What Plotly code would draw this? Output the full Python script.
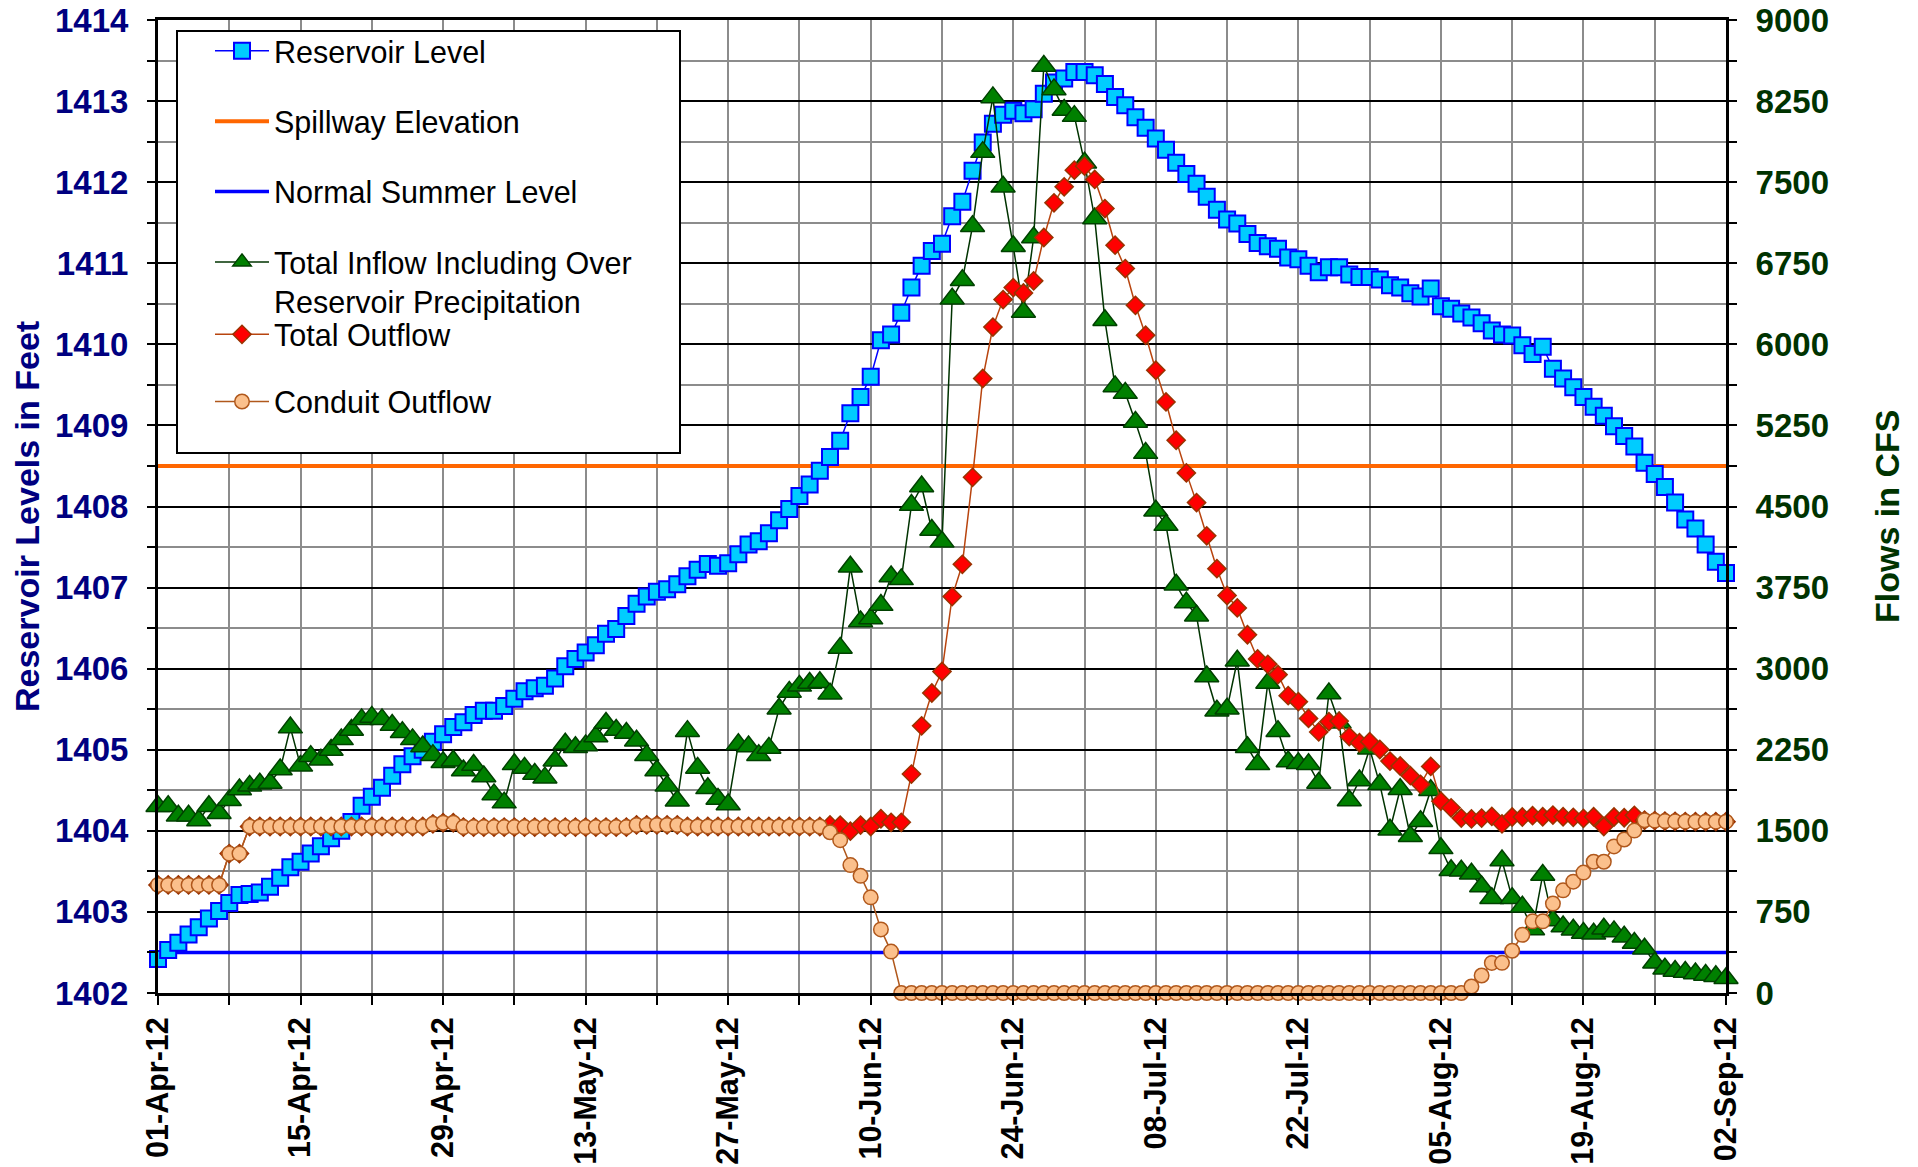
import pandas as pd
import plotly.graph_objects as go

# Daily record, 01-Apr-2012 through 02-Sep-2012
dates = pd.date_range("2012-04-01", "2012-09-02", freq="D")

# Reservoir pool elevation (feet)
reservoir_level = [
    1402.42, 1402.53, 1402.62, 1402.72, 1402.81, 1402.92, 1403.01,
    1403.11, 1403.21, 1403.22, 1403.24, 1403.31, 1403.42, 1403.55,
    1403.62, 1403.72, 1403.81, 1403.91, 1404.00, 1404.11, 1404.31,
    1404.42, 1404.53, 1404.68, 1404.82, 1404.92, 1405.00, 1405.10,
    1405.19, 1405.28, 1405.34, 1405.43, 1405.48, 1405.48, 1405.54,
    1405.63, 1405.72, 1405.76, 1405.79, 1405.88, 1406.03, 1406.12,
    1406.20, 1406.29, 1406.43, 1406.49, 1406.65, 1406.80, 1406.89,
    1406.95, 1406.98, 1407.04, 1407.14, 1407.22, 1407.29, 1407.27,
    1407.30, 1407.41, 1407.53, 1407.57, 1407.67, 1407.83, 1407.97,
    1408.13, 1408.27, 1408.44, 1408.61, 1408.81, 1409.15, 1409.35,
    1409.60, 1410.05, 1410.12, 1410.39, 1410.70, 1410.97, 1411.15,
    1411.24, 1411.58, 1411.76, 1412.14, 1412.49, 1412.72, 1412.83,
    1412.88, 1412.85, 1412.90, 1413.09, 1413.23, 1413.28, 1413.36,
    1413.36, 1413.32, 1413.21, 1413.05, 1412.95, 1412.80, 1412.67,
    1412.54, 1412.40, 1412.24, 1412.10, 1411.98, 1411.82, 1411.66,
    1411.54, 1411.49, 1411.36, 1411.25, 1411.21, 1411.18, 1411.07,
    1411.05, 1410.97, 1410.89, 1410.95, 1410.95, 1410.86, 1410.83,
    1410.83, 1410.80, 1410.73, 1410.70, 1410.63, 1410.59, 1410.69,
    1410.47, 1410.44, 1410.38, 1410.33, 1410.26, 1410.17, 1410.12,
    1410.11, 1409.99, 1409.88, 1409.97, 1409.70, 1409.58, 1409.47,
    1409.35, 1409.23, 1409.12, 1408.99, 1408.87, 1408.74, 1408.54,
    1408.40, 1408.24, 1408.05, 1407.84, 1407.73, 1407.53, 1407.32,
    1407.18,
]

# Reference elevations (feet)
SPILLWAY_ELEVATION = 1408.5
NORMAL_SUMMER_LEVEL = 1402.5

# Total inflow including over-reservoir precipitation (cfs)
total_inflow = [
    1728, 1728, 1639, 1639, 1596, 1728, 1662,
    1784, 1883, 1916, 1936, 1943, 2068, 2455,
    2101, 2191, 2158, 2247, 2346, 2432, 2531,
    2554, 2531, 2478, 2412, 2346, 2280, 2200,
    2134, 2148, 2058, 2108, 2002, 1837, 1761,
    2115, 2082, 2025, 1992, 2148, 2306, 2273,
    2290, 2372, 2498, 2432, 2405, 2333, 2200,
    2058, 1916, 1778, 2422, 2082, 1893, 1794,
    1744, 2300, 2280, 2200, 2267, 2630, 2785,
    2841, 2868, 2874, 2769, 3192, 3942, 3436,
    3463, 3588, 3852, 3826, 4513, 4685, 4282,
    4173, 6421, 6593, 7093, 7778, 8284, 7457,
    6907, 6299, 6988, 8574, 8358, 8167, 8111,
    7679, 7164, 6222, 5611, 5549, 5281, 4994,
    4460, 4328, 3776, 3611, 3489, 2927, 2610,
    2630, 3073, 2273, 2115, 2868, 2422, 2141,
    2125, 2115, 1943, 2770, 2500, 1780, 1965,
    2260, 1930, 1510, 1885, 1450, 1588, 1875,
    1338, 1135, 1131, 1103, 985, 877, 1225,
    877, 797, 588, 1092, 670, 615, 585,
    555, 548, 595, 570, 520, 462, 410,
    280, 225, 204, 195, 181, 166, 155,
    137,
]

# Total outflow (cfs)
total_outflow = [
    1000, 1000, 1000, 1000, 1000, 1000, 1000,
    1290, 1290, 1540, 1540, 1540, 1540, 1540,
    1540, 1540, 1540, 1540, 1540, 1540, 1540,
    1540, 1540, 1540, 1540, 1540, 1540, 1565,
    1575, 1575, 1535, 1535, 1535, 1535, 1535,
    1535, 1535, 1535, 1535, 1535, 1535, 1535,
    1535, 1535, 1535, 1535, 1535, 1555, 1555,
    1555, 1555, 1555, 1540, 1540, 1540, 1540,
    1540, 1540, 1540, 1540, 1540, 1540, 1540,
    1540, 1540, 1540, 1555, 1553, 1497, 1553,
    1540, 1612, 1579, 1579, 2025, 2471, 2775,
    2974, 3667, 3965, 4770, 5684, 6160, 6414,
    6525, 6475, 6587, 6988, 7309, 7457, 7611,
    7648, 7525, 7256, 6917, 6701, 6361, 6084,
    5760, 5467, 5113, 4811, 4536, 4229, 3925,
    3677, 3562, 3314, 3090, 3040, 2945, 2750,
    2695, 2540, 2415, 2510, 2515, 2372, 2315,
    2325, 2252, 2145, 2100, 2010, 1930, 2096,
    1774, 1713, 1618, 1610, 1618, 1633, 1565,
    1628, 1628, 1640, 1630, 1646, 1630, 1625,
    1615, 1630, 1540, 1628, 1621, 1643, 1598,
    1595, 1590, 1588, 1586, 1585, 1585, 1585,
    1585,
]

# Conduit outflow (cfs)
conduit_outflow = [
    1000, 1000, 1000, 1000, 1000, 1000, 1000,
    1290, 1290, 1540, 1540, 1540, 1540, 1540,
    1540, 1540, 1540, 1540, 1540, 1540, 1540,
    1540, 1540, 1540, 1540, 1540, 1540, 1565,
    1575, 1575, 1535, 1535, 1535, 1535, 1535,
    1535, 1535, 1535, 1535, 1535, 1535, 1535,
    1535, 1535, 1535, 1535, 1535, 1555, 1555,
    1555, 1555, 1555, 1540, 1540, 1540, 1540,
    1540, 1540, 1540, 1540, 1540, 1540, 1540,
    1540, 1540, 1540, 1487, 1414, 1183, 1084,
    885, 588, 383, 0, 0, 0, 0,
    0, 0, 0, 0, 0, 0, 0,
    0, 0, 0, 0, 0, 0, 0,
    0, 0, 0, 0, 0, 0, 0,
    0, 0, 0, 0, 0, 0, 0,
    0, 0, 0, 0, 0, 0, 0,
    0, 0, 0, 0, 0, 0, 0,
    0, 0, 0, 0, 0, 0, 0,
    0, 0, 0, 60, 162, 278, 279,
    391, 538, 663, 663, 827, 950, 1030,
    1114, 1214, 1214, 1356, 1420, 1502, 1598,
    1595, 1590, 1588, 1586, 1585, 1585, 1585,
    1585,
]

spillway_line = [SPILLWAY_ELEVATION] * len(dates)
normal_line = [NORMAL_SUMMER_LEVEL] * len(dates)

FONT = "Liberation Sans, Arial, Helvetica, sans-serif"
NAVY = "#000080"
DKGREEN = "#003300"
GRID = "#8c8c8c"
DAY_MS = 86400000

fig = go.Figure()

# Level-axis traces
fig.add_trace(go.Scatter(
    x=dates, y=spillway_line, name="Spillway Elevation", mode="lines",
    line=dict(color="#ff6600", width=4), legend="legend", legendgroup="g2",
    legendrank=2, cliponaxis=False))
fig.add_trace(go.Scatter(
    x=dates, y=normal_line, name="Normal Summer Level", mode="lines",
    line=dict(color="#0000ff", width=3.5), legend="legend", legendgroup="g3",
    legendrank=3, cliponaxis=False))
fig.add_trace(go.Scatter(
    x=dates, y=reservoir_level, name="Reservoir Level", mode="lines+markers",
    line=dict(color="#0000ff", width=1.5),
    marker=dict(symbol="square", size=16, color="#00ccff",
                line=dict(color="#0000ff", width=2)),
    legend="legend", legendgroup="g1", legendrank=1, cliponaxis=False))

# Flow-axis traces
fig.add_trace(go.Scatter(
    x=dates, y=total_inflow, yaxis="y2",
    name="Total Inflow Including Over<br>Reservoir Precipitation",
    mode="lines+markers", line=dict(color="#003300", width=1.5),
    marker=dict(symbol="triangle-up", size=21, color="#008000",
                line=dict(color="#004000", width=1.5)),
    legend="legend", legendgroup="g4", legendrank=4, cliponaxis=False))
fig.add_trace(go.Scatter(
    x=dates, y=total_outflow, yaxis="y2", name="Total Outflow",
    mode="lines+markers", line=dict(color="#b8440e", width=1.5),
    marker=dict(symbol="diamond", size=14, color="#ff0000",
                line=dict(color="#993300", width=1.5)),
    legend="legend2", legendgroup="g5", legendrank=5, cliponaxis=False))
fig.add_trace(go.Scatter(
    x=dates, y=conduit_outflow, yaxis="y2", name="Conduit Outflow",
    mode="lines+markers", line=dict(color="#b0581c", width=1.5),
    marker=dict(symbol="circle", size=14.5, color="#fbc08c",
                line=dict(color="#b0581c", width=1.5)),
    legend="legend2", legendgroup="g6", legendrank=6, cliponaxis=False))

L, R, T, B = 158, 192, 20, 174
W, H = 1918, 1167
pw, ph = W - L - R, H - T - B


def px_x(x):
    return (x - L) / pw


def px_y(y):
    return (H - B - y) / ph


legend_common = dict(
    bgcolor="rgba(0,0,0,0)", borderwidth=0,
    font=dict(family=FONT, size=30.5, color="black"),
    itemwidth=54, valign="top",
    xanchor="left", yanchor="top", itemclick=False, itemdoubleclick=False,
)

fig.update_layout(
    width=W, height=H,
    margin=dict(l=L, r=R, t=T, b=B, autoexpand=False),
    paper_bgcolor="white", plot_bgcolor="white",
    showlegend=True,
    legend=dict(x=px_x(210), y=px_y(24.5), tracegroupgap=27.7, **legend_common),
    legend2=dict(x=px_x(210), y=px_y(308), tracegroupgap=24.5, **legend_common),
    xaxis=dict(
        type="date",
        range=[dates[0], dates[-1]],
        tick0="2012-04-01", dtick=14 * DAY_MS, tickformat="%d-%b-%y",
        tickangle=-90,
        tickfont=dict(family=FONT, size=30.5, color="black", weight="bold"),
        ticks="outside", ticklen=9, tickwidth=2, tickcolor="black",
        ticklabelstandoff=0,
        showgrid=True, gridcolor=GRID, gridwidth=1.5,
        minor=dict(dtick=7 * DAY_MS, tick0="2012-04-01", showgrid=True,
                   gridcolor=GRID, gridwidth=1.5, ticks="outside",
                   ticklen=9, tickwidth=2, tickcolor="black"),
        showline=True, linecolor="black", linewidth=3, mirror=True,
        zeroline=False,
    ),
    yaxis=dict(
        range=[1402, 1414], tick0=1402, dtick=1,
        tickformat="d",
        tickfont=dict(family=FONT, size=33, color=NAVY, weight="bold"),
        ticks="outside", ticklen=8, tickwidth=2, tickcolor="black",
        ticklabelstandoff=12,
        showgrid=True, gridcolor="black", gridwidth=1.5,
        minor=dict(dtick=0.5, showgrid=True, gridcolor=GRID, gridwidth=1.5,
                   ticks="outside", ticklen=8, tickwidth=2, tickcolor="black"),
        showline=True, linecolor="black", linewidth=3,
        zeroline=False,
    ),
    yaxis2=dict(
        overlaying="y", side="right",
        range=[0, 9000], tick0=0, dtick=750,
        tickformat="d",
        tickfont=dict(family=FONT, size=33, color=DKGREEN, weight="bold"),
        ticks="outside", ticklen=8, tickwidth=2, tickcolor="black",
        ticklabelstandoff=12,
        showgrid=False,
        minor=dict(dtick=375, ticks="outside", ticklen=8, tickwidth=2,
                   tickcolor="black", showgrid=False),
        showline=True, linecolor="black", linewidth=3,
        zeroline=False,
    ),
    shapes=[dict(
        type="rect", xref="paper", yref="paper", layer="above",
        x0=px_x(177), x1=px_x(680), y0=px_y(453), y1=px_y(31),
        line=dict(color="black", width=2), fillcolor="white",
    )],
    annotations=[
        dict(text="Reservoir Levels in Feet", xref="paper", yref="paper",
             x=px_x(27), y=px_y(517), xanchor="center", yanchor="middle",
             textangle=-90, showarrow=False,
             font=dict(family=FONT, size=34, color=NAVY, weight="bold")),
        dict(text="Flows in CFS", xref="paper", yref="paper",
             x=px_x(1887), y=px_y(517), xanchor="center", yanchor="middle",
             textangle=-90, showarrow=False,
             font=dict(family=FONT, size=34, color=DKGREEN, weight="bold")),
    ],
)

fig.write_html("out.html")
